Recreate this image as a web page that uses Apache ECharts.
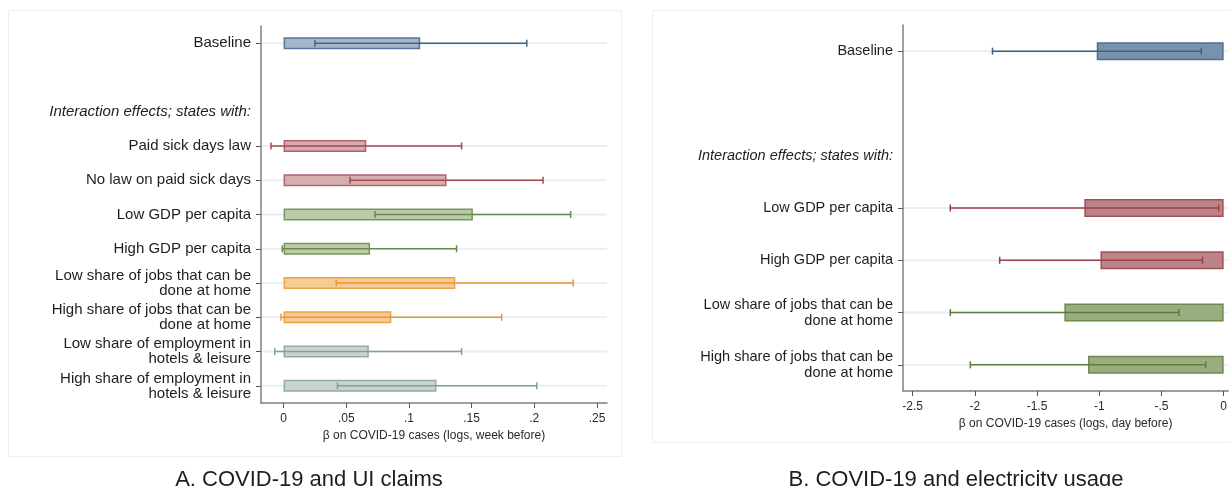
<!DOCTYPE html>
<html>
<head>
<meta charset="utf-8">
<title>COVID-19, UI claims and electricity usage</title>
<script src="https://cdn.jsdelivr.net/npm/echarts@6/dist/echarts.min.js"></script>
<style>
  html, body { margin: 0; padding: 0; background: #ffffff; }
  #chart { width: 1230px; height: 486px; }
</style>
</head>
<body>
<div id="chart"></div>
<script>
// Panel A: UI claims (week-before cases)
const catsA = [
  'Baseline', '', 'Interaction effects; states with:',
  'Paid sick days law', 'No law on paid sick days',
  'Low GDP per capita', 'High GDP per capita',
  'Low share of jobs that can be\ndone at home', 'High share of jobs that can be\ndone at home',
  'Low share of employment in\nhotels & leisure', 'High share of employment in\nhotels & leisure'
];
const estA = [0.109, null, null, 0.066, 0.130, 0.151, 0.069, 0.137, 0.086, 0.068, 0.122];
const loA  = [0.025, null, null, -0.010, 0.053, 0.073, -0.001, 0.042, -0.002, -0.007, 0.043];
const hiA  = [0.194, null, null, 0.142, 0.207, 0.229, 0.138, 0.231, 0.174, 0.142, 0.202];
const ticksA = [0, 0.05, 0.1, 0.15, 0.2, 0.25];
const groupA = ['navy', null, null, 'maroon', 'maroon', 'green', 'green', 'orange', 'orange', 'teal', 'teal'];

// Panel B: electricity usage (day-before cases)
const catsB = [
  'Baseline', '', 'Interaction effects; states with:',
  'Low GDP per capita', 'High GDP per capita',
  'Low share of jobs that can be\ndone at home', 'High share of jobs that can be\ndone at home'
];
const estB = [-1.02, null, null, -1.12, -0.99, -1.28, -1.09];
const loB  = [-1.858, null, null, -2.197, -1.80, -2.197, -2.036];
const hiB  = [-0.18, null, null, -0.04, -0.17, -0.36, -0.144];
const ticksB = [-2.5, -2, -1.5, -1, -0.5, 0];
const groupB = ['navy', null, null, 'maroon', 'maroon', 'green', 'green'];

const titleA = 'A. COVID-19 and UI claims';
const titleB = 'B. COVID-19 and electricity usage';
const axisNameA = 'β on COVID-19 cases (logs, week before)';
const axisNameB = 'β on COVID-19 cases (logs, day before)';

// Light (panel A) and denser (panel B) shades of the same palette
const paletteA = {
  navy:   { fill: '#a5b6c8', edge: '#56789b', line: '#3f6488' },
  maroon: { fill: '#d5aeb1', edge: '#b0636a', line: '#a54852' },
  green:  { fill: '#bccaab', edge: '#7b9660', line: '#6a8a48' },
  orange: { fill: '#f6cb95', edge: '#eda14a', line: '#eb9630' },
  teal:   { fill: '#c6d3cf', edge: '#94aba3', line: '#84a097' }
};
const paletteB = {
  navy:   { fill: '#7891ad', edge: '#4d6f93', line: '#3d6186' },
  maroon: { fill: '#bd8488', edge: '#a24e56', line: '#9a3f48' },
  green:  { fill: '#9aad80', edge: '#6c8a4b', line: '#5d7d3a' },
  orange: { fill: '#f0b060', edge: '#e38a20', line: '#e38a20' },
  teal:   { fill: '#9fb4ad', edge: '#6e8e84', line: '#6e8e84' }
};

const FONT = "'Liberation Sans', Arial, Helvetica, sans-serif";

function fmtTick(v) {
  if (v === 0) return '0';
  const s = String(+v.toFixed(4));
  return s.replace(/^(-?)0\./, '$1.');
}

function labelled(i, cats) { return i !== 1 && i !== 2 && cats[i] !== ''; }

function barData(est, group, palette) {
  return est.map((v, i) => v === null ? '-' : {
    value: v,
    itemStyle: { color: palette[group[i]].fill, borderColor: palette[group[i]].edge, borderWidth: 1.5 }
  });
}

function ciData(lo, hi) {
  const out = [];
  lo.forEach((v, i) => { if (v !== null) out.push([i, v, hi[i]]); });
  return out;
}

function rowData(cats) {
  const out = [];
  cats.forEach((c, i) => { if (labelled(i, cats)) out.push([i]); });
  return out;
}

// faint horizontal guide at each labelled row
function gridRowSeries(idx, cats) {
  return {
    type: 'custom', xAxisIndex: idx, yAxisIndex: idx, z: 1, silent: true,
    data: rowData(cats),
    encode: { y: 0 },
    renderItem: function (params, api) {
      const cs = params.coordSys;
      const y = api.coord([0, api.value(0)])[1];
      return { type: 'line', shape: { x1: cs.x + 1, y1: y, x2: cs.x + cs.width, y2: y },
               style: { stroke: '#e8eef1', lineWidth: 2 } };
    }
  };
}

// confidence interval with end caps
function ciSeries(idx, lo, hi, group, palette) {
  const cap = 3.5;
  return {
    type: 'custom', xAxisIndex: idx, yAxisIndex: idx, z: 5, silent: true,
    data: ciData(lo, hi),
    encode: { x: [1, 2], y: 0 },
    renderItem: function (params, api) {
      const row = api.value(0);
      const p1 = api.coord([api.value(1), row]);
      const p2 = api.coord([api.value(2), row]);
      const col = palette[group[row]].line;
      const st = { stroke: col, lineWidth: 1.5 };
      return { type: 'group', children: [
        { type: 'line', shape: { x1: p1[0], y1: p1[1], x2: p2[0], y2: p2[1] }, style: st },
        { type: 'line', shape: { x1: p1[0], y1: p1[1] - cap, x2: p1[0], y2: p1[1] + cap }, style: st },
        { type: 'line', shape: { x1: p2[0], y1: p2[1] - cap, x2: p2[0], y2: p2[1] + cap }, style: st }
      ]};
    }
  };
}

function yAxisFor(idx, cats, fontSize, lineHeight) {
  return {
    type: 'category', gridIndex: idx, data: cats, inverse: true,
    axisLine: { show: true, onZero: false, lineStyle: { color: '#7f7f7f', width: 1.5 } },
    axisTick: { show: true, alignWithLabel: true, length: 5,
                interval: function (i) { return labelled(i, cats); },
                lineStyle: { color: '#555555', width: 1 } },
    axisLabel: {
      interval: 0, margin: 10, fontFamily: FONT, fontSize: fontSize, color: '#1e1e1e',
      lineHeight: lineHeight, align: 'right',
      formatter: function (v, i) { return i === 2 ? '{it|' + v + '}' : v; },
      rich: { it: { fontStyle: 'italic', fontFamily: FONT, fontSize: fontSize, color: '#1e1e1e' } }
    },
    splitLine: { show: false }
  };
}

function xAxisFor(idx, min, max, ticks, name) {
  return {
    type: 'value', gridIndex: idx, min: min, max: max,
    name: name, nameLocation: 'middle', nameGap: 23,
    nameTextStyle: { fontFamily: FONT, fontSize: 12, color: '#2a2a2a' },
    axisLine: { show: true, onZero: false, lineStyle: { color: '#7f7f7f', width: 1.5 } },
    axisTick: { show: true, length: 5, customValues: ticks, lineStyle: { color: '#555555', width: 1 } },
    axisLabel: { customValues: ticks, margin: 10, fontFamily: FONT, fontSize: 12, color: '#2a2a2a',
                 formatter: fmtTick },
    splitLine: { show: false }
  };
}

const chart = echarts.init(document.getElementById('chart'), null, { renderer: 'canvas' });

chart.setOption({
  backgroundColor: '#ffffff',
  animation: false,
  title: [
    { text: titleA, left: 304, top: 464, textAlign: 'center',
      textStyle: { fontFamily: FONT, fontSize: 22, fontWeight: 'normal', color: '#1e1e1e' } },
    { text: titleB, left: 951, top: 464, textAlign: 'center',
      textStyle: { fontFamily: FONT, fontSize: 22, fontWeight: 'normal', color: '#1e1e1e' } }
  ],
  graphic: [
    { type: 'rect', shape: { x: 8.5, y: 10.5, width: 613, height: 446 }, silent: true,
      style: { fill: 'none', stroke: '#efefef', lineWidth: 1 } },
    { type: 'rect', shape: { x: 652.5, y: 10.5, width: 590, height: 432 }, silent: true,
      style: { fill: 'none', stroke: '#efefef', lineWidth: 1 } }
  ],
  grid: [
    { left: 261, top: 26, width: 346, height: 377, containLabel: false },
    { left: 903, top: 25, width: 327, height: 366, containLabel: false }
  ],
  xAxis: [
    xAxisFor(0, -0.018, 0.258, ticksA, axisNameA),
    xAxisFor(1, -2.577, 0.037, ticksB, axisNameB)
  ],
  yAxis: [
    yAxisFor(0, catsA, 15, 15),
    yAxisFor(1, catsB, 14.5, 16)
  ],
  series: [
    gridRowSeries(0, catsA),
    { type: 'bar', xAxisIndex: 0, yAxisIndex: 0, z: 3, barWidth: 12, silent: true,
      data: barData(estA, groupA, paletteA) },
    ciSeries(0, loA, hiA, groupA, paletteA),

    gridRowSeries(1, catsB),
    { type: 'bar', xAxisIndex: 1, yAxisIndex: 1, z: 3, barWidth: 18, silent: true,
      data: barData(estB, groupB, paletteB) },
    ciSeries(1, loB, hiB, groupB, paletteB)
  ]
});
</script>
</body>
</html>
